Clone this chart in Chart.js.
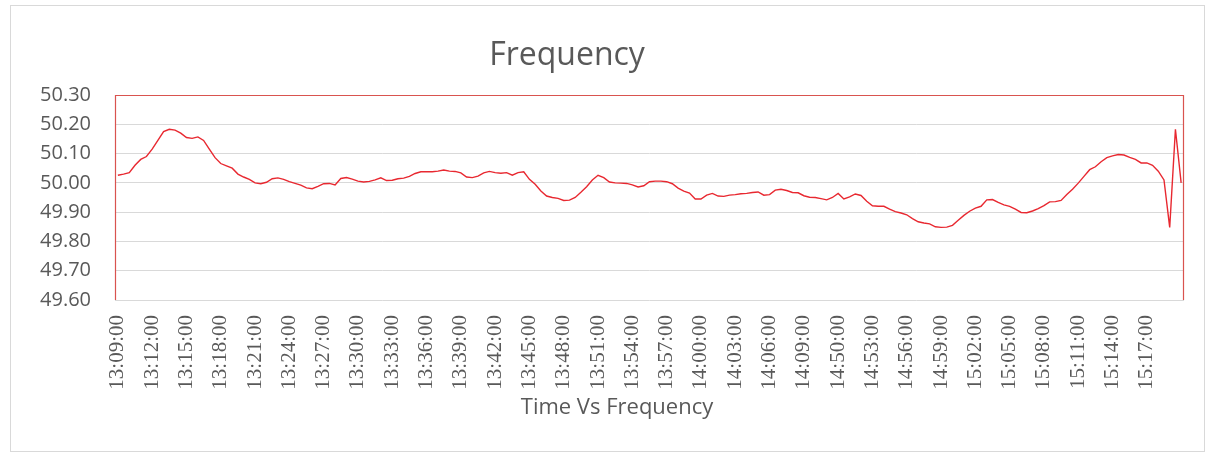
<!DOCTYPE html>
<html>
<head>
<meta charset="utf-8">
<script src="https://cdn.jsdelivr.net/npm/chart.js@4"></script>
<style>
  html, body { margin: 0; padding: 0; background: #fff; }
</style>
</head>
<body>
<canvas id="freqChart" width="1212" height="455"></canvas>
<script>
var chartTitle = 'Frequency';
var axisTitle = 'Time Vs Frequency';

// one label every 6 samples
var tickLabels = ['13:09:00', '13:12:00', '13:15:00', '13:18:00', '13:21:00', '13:24:00', '13:27:00',
    '13:30:00', '13:33:00', '13:36:00', '13:39:00', '13:42:00', '13:45:00', '13:48:00', '13:51:00',
    '13:54:00', '13:57:00', '14:00:00', '14:03:00', '14:06:00', '14:09:00', '14:50:00', '14:53:00',
    '14:56:00', '14:59:00', '15:02:00', '15:05:00', '15:08:00', '15:11:00', '15:14:00', '15:17:00'];

var frequency = [
    50.026, 50.030, 50.035, 50.060, 50.080, 50.090, 50.115, 50.145, 50.175, 50.183,
    50.180, 50.170, 50.155, 50.152, 50.157, 50.145, 50.115, 50.086, 50.066, 50.058,
    50.050, 50.030, 50.020, 50.012, 50.000, 49.997, 50.002, 50.014, 50.017, 50.012,
    50.004, 49.998, 49.992, 49.983, 49.980, 49.988, 49.997, 49.998, 49.993, 50.015,
    50.018, 50.013, 50.006, 50.003, 50.005, 50.010, 50.017, 50.008, 50.009, 50.014,
    50.016, 50.022, 50.032, 50.038, 50.038, 50.038, 50.040, 50.044, 50.040, 50.039,
    50.034, 50.020, 50.018, 50.023, 50.034, 50.039, 50.035, 50.033, 50.035, 50.026,
    50.035, 50.038, 50.012, 49.995, 49.972, 49.955, 49.950, 49.947, 49.940, 49.941,
    49.950, 49.968, 49.987, 50.010, 50.026, 50.018, 50.003, 50.000, 49.999, 49.998,
    49.993, 49.986, 49.990, 50.004, 50.006, 50.006, 50.004, 49.997, 49.982, 49.972,
    49.965, 49.945, 49.945, 49.958, 49.964, 49.955, 49.954, 49.958, 49.960, 49.963,
    49.964, 49.967, 49.969, 49.958, 49.960, 49.975, 49.978, 49.974, 49.967, 49.966,
    49.956, 49.951, 49.950, 49.946, 49.942, 49.950, 49.964, 49.945, 49.952, 49.962,
    49.957, 49.937, 49.922, 49.920, 49.920, 49.910, 49.902, 49.897, 49.891, 49.878,
    49.867, 49.863, 49.860, 49.850, 49.848, 49.849, 49.855, 49.872, 49.889, 49.903,
    49.914, 49.920, 49.942, 49.943, 49.933, 49.925, 49.920, 49.910, 49.899, 49.898,
    49.904, 49.912, 49.922, 49.935, 49.936, 49.940, 49.960, 49.978, 49.999, 50.022,
    50.045, 50.055, 50.072, 50.086, 50.092, 50.097, 50.095, 50.087, 50.080, 50.068,
    50.068, 50.060, 50.040, 50.010, 49.848, 50.183, 50.000
];

var textColor = '#595959';

// outer chart border, red plot frame and the two titles
var framePlugin = {
    id: 'frame',
    beforeDraw: function (chart) {
        var c = chart.ctx;
        c.save();
        c.fillStyle = '#fff';
        c.fillRect(0, 0, chart.width, chart.height);
        c.strokeStyle = '#d9d9d9';
        c.lineWidth = 1;
        c.strokeRect(10.5, 5.5, 1194, 446);
        c.restore();
    },
    beforeDatasetsDraw: function (chart) {
        var a = chart.chartArea;
        var c = chart.ctx;
        c.save();
        c.strokeStyle = '#d9534f';
        c.lineWidth = 1.2;
        c.beginPath();
        c.moveTo(a.left + 0.5, a.bottom);
        c.lineTo(a.left + 0.5, a.top + 0.5);
        c.lineTo(a.right - 0.5, a.top + 0.5);
        c.lineTo(a.right - 0.5, a.bottom);
        c.stroke();
        c.restore();
    },
    afterDraw: function (chart) {
        var c = chart.ctx;
        c.save();
        c.fillStyle = textColor;
        c.textAlign = 'center';
        c.textBaseline = 'middle';
        c.font = '32px "Open Sans"';
        c.fillText(chartTitle, 567, 56);
        c.font = '22px "Open Sans"';
        c.fillText(axisTitle, 617, 408);
        c.restore();
    }
};

var ctx = document.getElementById('freqChart').getContext('2d');
var freqChart = new Chart(ctx, {
    type: 'line',
    data: {
        datasets: [{
            label: 'Frequency',
            data: frequency.map((v, i) => ({ x: i, y: v })),
            borderColor: 'rgb(232, 40, 48)',
            borderWidth: 1.4,
            pointRadius: 0,
            tension: 0,
            fill: false
        }]
    },
    plugins: [framePlugin],
    options: {
        responsive: false,
        animation: false,
        devicePixelRatio: 1,
        layout: { padding: { top: 95, right: 28, left: 0, bottom: 0 } },
        plugins: {
            legend: { display: false },
            title: { display: false },
            tooltip: { enabled: false }
        },
        scales: {
            x: {
                type: 'linear',
                min: -0.5,
                max: frequency.length - 0.5,
                afterBuildTicks: function (scale) {
                    scale.ticks = tickLabels.map((t, k) => ({ value: k * 6 }));
                },
                afterFit: function (scale) { scale.height = 155; },
                grid: { display: false, drawTicks: false },
                border: { display: false },
                ticks: {
                    autoSkip: false,
                    minRotation: 90,
                    maxRotation: 90,
                    padding: 15,
                    color: textColor,
                    font: { family: '"Liberation Serif", serif', size: 21 },
                    callback: function (value, index) { return tickLabels[index]; }
                }
            },
            y: {
                min: 49.6,
                max: 50.3,
                afterFit: function (scale) { scale.width = 115; },
                grid: { color: '#d9d9d9', lineWidth: 1, drawTicks: false },
                border: { display: false },
                ticks: {
                    stepSize: 0.1,
                    padding: 24,
                    color: textColor,
                    font: { family: '"Open Sans"', size: 20 },
                    callback: function (v) { return v.toFixed(2); }
                }
            }
        }
    }
});
</script>
</body>
</html>
